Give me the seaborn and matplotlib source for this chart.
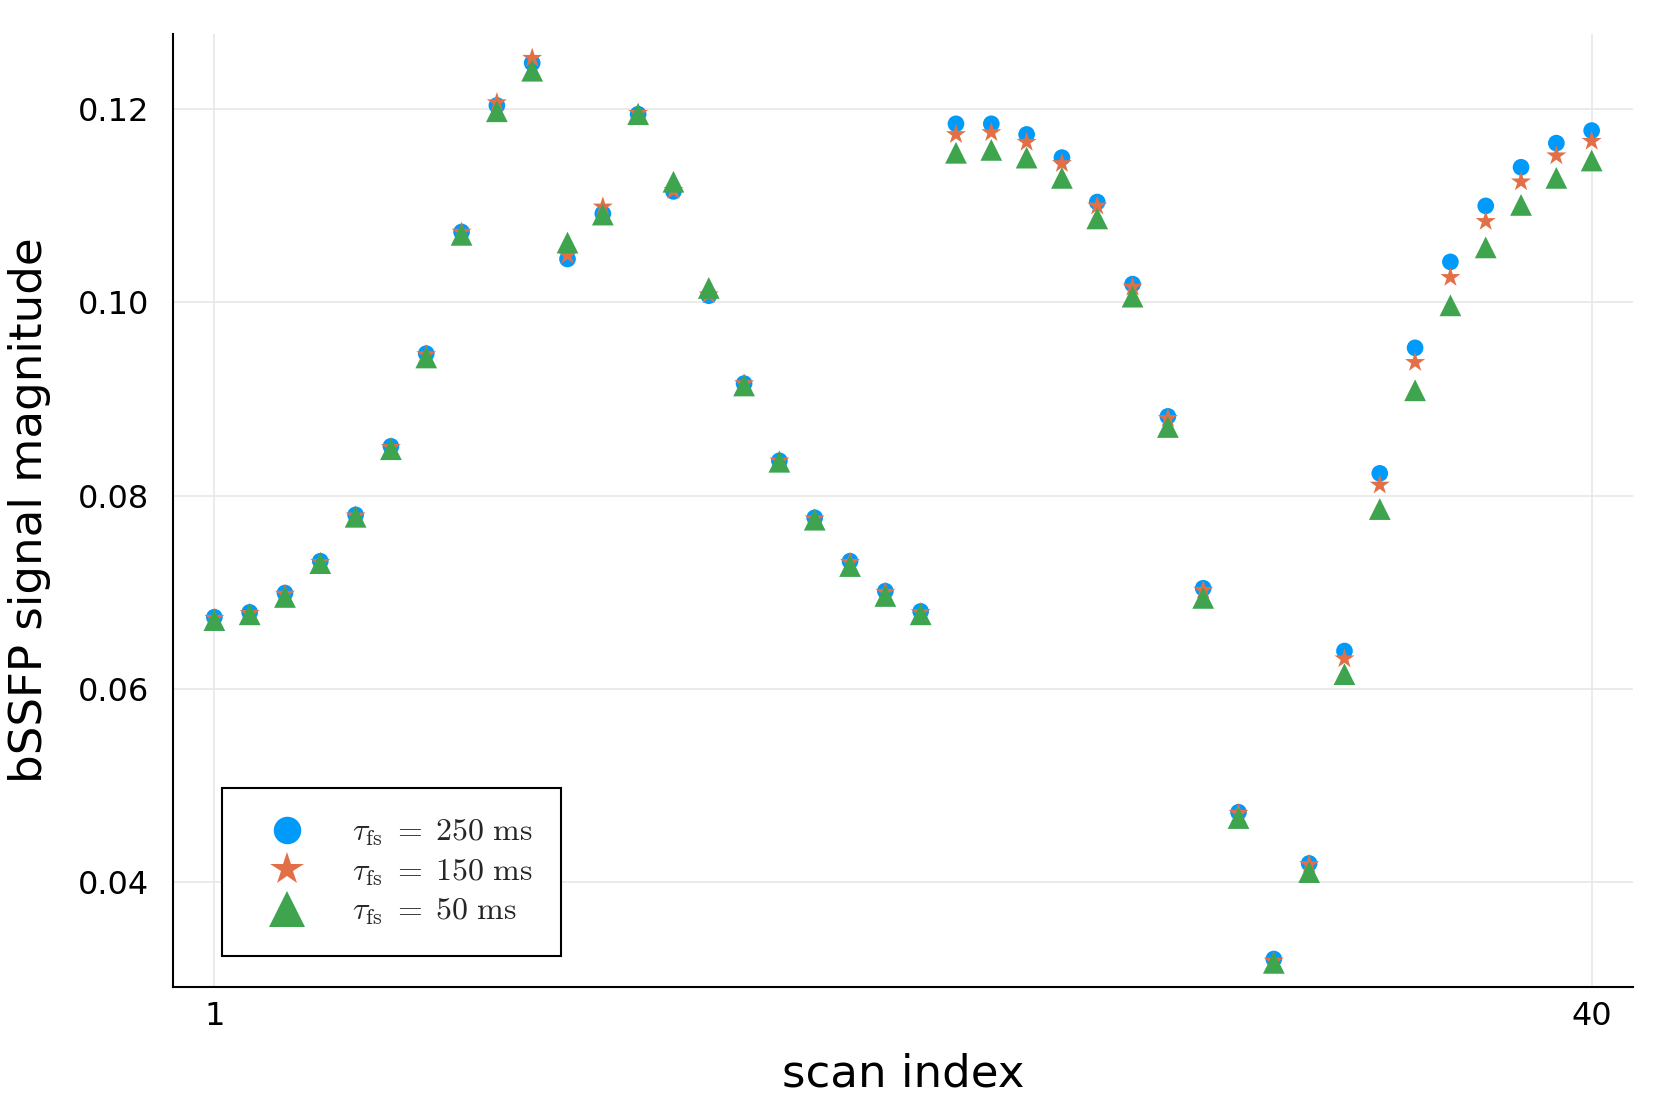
import matplotlib
matplotlib.use('Agg')
import matplotlib.pyplot as plt
import pandas as pd
import seaborn as sns

# --- data ---
scan_index = list(range(1, 41))

tau_250 = [0.0674, 0.0679, 0.0699, 0.0732, 0.0780, 0.0851, 0.0947, 0.1073, 0.1204, 0.1248,
           0.1045, 0.1092, 0.1195, 0.1115, 0.1007, 0.0916, 0.0836, 0.0777, 0.0732, 0.0701,
           0.0680, 0.1185, 0.1185, 0.1174, 0.1150, 0.1104, 0.1019, 0.0882, 0.0704, 0.0472,
           0.0320, 0.0419, 0.0639, 0.0823, 0.0953, 0.1042, 0.1100, 0.1140, 0.1165, 0.1178]
tau_150 = [0.0673, 0.0678, 0.0698, 0.0731, 0.0779, 0.0850, 0.0946, 0.1073, 0.1207, 0.1253,
           0.1049, 0.1099, 0.1196, 0.1116, 0.1008, 0.0916, 0.0836, 0.0776, 0.0731, 0.0700,
           0.0679, 0.1174, 0.1176, 0.1166, 0.1144, 0.1100, 0.1016, 0.0880, 0.0702, 0.0471,
           0.0318, 0.0418, 0.0631, 0.0811, 0.0938, 0.1026, 0.1084, 0.1125, 0.1152, 0.1167]
tau_50 = [0.0671, 0.0677, 0.0695, 0.0730, 0.0778, 0.0848, 0.0943, 0.1070, 0.1198, 0.1240,
          0.1062, 0.1091, 0.1195, 0.1125, 0.1015, 0.0914, 0.0835, 0.0775, 0.0727, 0.0696,
          0.0677, 0.1155, 0.1158, 0.1150, 0.1129, 0.1087, 0.1006, 0.0871, 0.0694, 0.0466,
          0.0316, 0.0410, 0.0615, 0.0786, 0.0909, 0.0997, 0.1057, 0.1101, 0.1129, 0.1147]

labels = [r'$\tau_{\mathrm{fs}} \;=\; 250\ \mathrm{ms}$',
          r'$\tau_{\mathrm{fs}} \;=\; 150\ \mathrm{ms}$',
          r'$\tau_{\mathrm{fs}} \;=\; 50\ \mathrm{ms}$']
y_ticks = [0.04, 0.06, 0.08, 0.10, 0.12]
x_ticks = [1, 40]

# long-form table, blue first so the triangles end up on top
frames = []
for lab, vals in zip(labels, [tau_250, tau_150, tau_50]):
    frames.append(pd.DataFrame({'scan': scan_index, 'signal': vals, 'series': lab}))
df = pd.concat(frames, ignore_index=True)

# --- setup ---
sns.set_style('white')
plt.rcParams['font.family'] = ['DejaVu Sans']
plt.rcParams['mathtext.fontset'] = 'cm'

fig = plt.figure(figsize=(16.67, 11.12), dpi=100)
ax = fig.add_axes([0.1038, 0.1124, 0.8758, 0.8570])

palette = dict(zip(labels, ['#009AFA', '#E36F47', '#3EA44E']))
markers = dict(zip(labels, ['o', '*', '^']))
sizes = dict(zip(labels, [144, 230, 245]))

sns.scatterplot(data=df, x='scan', y='signal', hue='series', style='series',
                size='series', hue_order=labels, style_order=labels, size_order=labels,
                palette=palette, markers=markers, sizes=sizes,
                linewidth=0, edgecolor='none', ax=ax, zorder=3)

# --- axes styling ---
ax.set_xlim(1 - 0.03 * 39, 40 + 0.03 * 39)
ax.set_ylim(0.0291, 0.1278)
ax.set_xticks(x_ticks)
ax.set_xticklabels([str(t) for t in x_ticks])
ax.set_yticks(y_ticks)
ax.set_yticklabels([f'{t:.2f}' for t in y_ticks])

ax.grid(True, color='#e6e6e6', linewidth=1.1, zorder=0)
ax.set_axisbelow(True)
for side in ['top', 'right']:
    ax.spines[side].set_visible(False)
for side in ['left', 'bottom']:
    ax.spines[side].set_color('black')
    ax.spines[side].set_linewidth(1.5)

ax.tick_params(axis='y', direction='in', length=13, width=1.5, labelsize=23, pad=17, colors='black')
ax.tick_params(axis='x', direction='in', length=7, width=1.2, labelsize=23, pad=10, colors='black')

ax.set_xlabel('scan index', fontsize=32.5, color='black')
ax.set_ylabel('bSSFP signal magnitude', fontsize=32.5, color='black')
ax.xaxis.label.set_va('center')
ax.yaxis.label.set_va('center')
ax.xaxis.set_label_coords(0.5, -0.091)
ax.yaxis.set_label_coords(-0.098, 0.5)

# legend
handles, labs = ax.get_legend_handles_labels()
leg = ax.legend(handles, labs, loc='lower left', bbox_to_anchor=(0.0336, 0.0325),
                borderaxespad=0, fontsize=23, markerscale=1.65, frameon=True,
                fancybox=False, edgecolor='black', framealpha=1,
                borderpad=0.9, handlelength=2.26, handletextpad=0.9, labelspacing=0.25)
leg.get_frame().set_linewidth(1.5)

plt.savefig('out.png', dpi=100, facecolor='white')
